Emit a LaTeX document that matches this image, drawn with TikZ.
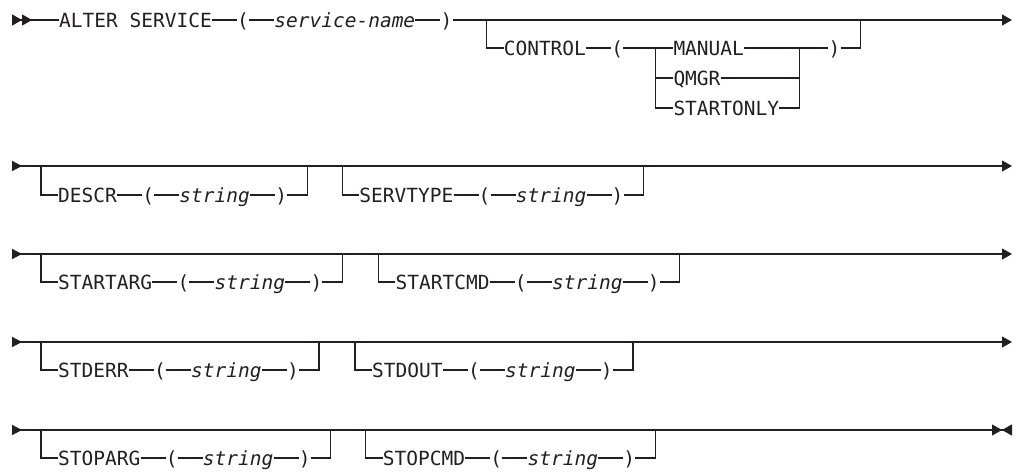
\documentclass[tikz,border=0pt]{standalone}
\usepackage{fontspec}
\newfontfamily\railfont{DejaVu Sans Mono}[ItalicFont={DejaVu Sans Mono Oblique}]
\usetikzlibrary{arrows.meta,positioning,calc}
\definecolor{ink}{HTML}{231F20}

\begin{document}
\begin{tikzpicture}[
    x=1pt, y=-1pt,
    node distance=25pt,
    kw/.style={inner sep=0pt, anchor=west, text height=14.2pt, text depth=0pt,
               font=\railfont\fontsize{19.5pt}{20pt}\selectfont, text=ink},
    var/.style={kw, font=\railfont\itshape\fontsize{19.5pt}{20pt}\selectfont},
    rail/.style={draw=ink, line width=1.2pt},
    railcont/.style={{Triangle[reversed,length=10pt,width=10pt]}-{Triangle[length=10pt,width=11pt]}},
    railstop/.style={{Triangle[reversed,length=10pt,width=10pt]}-{Triangle[length=10pt,width=11pt]Triangle[reversed,length=10pt,width=11pt]}}
  ]
  \useasboundingbox (0,0) rectangle (1018,473);

  % row 1: ALTER SERVICE ( service-name ) [CONTROL]
  \coordinate (s1) at (12,20);
  \coordinate (e1) at (1012,20);
  \node[kw] (alter) at (59,20) {ALTER SERVICE};
  \node[kw, right=of alter] (alterlp) {(};
  \node[var, right=of alterlp] (svcname) {service-name};
  \node[kw, right=of svcname] (alterrp) {)};
  \coordinate[right=34pt of alterrp] (ctlin);
  \node[kw] (ctl) at ([shift={(17pt,-28pt)}]ctlin) {CONTROL};
  \node[kw, right=of ctl] (ctllp) {(};
  \node[kw, right=50pt of ctllp] (manual) {MANUAL};
  \node[kw] (qmgr) at ([yshift=-30pt]manual.west) {QMGR};
  \node[kw] (startonly) at ([yshift=-30pt]qmgr.west) {STARTONLY};
  \coordinate (optin) at ([xshift=-18pt]manual.west);
  \coordinate (optout) at ([xshift=20pt]startonly.east |- manual.east);
  \node[kw, right=29pt of optout] (ctlrp) {)};
  \coordinate (ctlout) at ([xshift=20pt]ctlrp.east |- e1);

  \draw[rail, {Triangle[reversed,length=10pt,width=11pt]Triangle[reversed,length=10pt,width=11pt]}-] (s1) -- (alter);
  \draw[rail] (alter) -- (alterlp) (alterlp) -- (svcname) (svcname) -- (alterrp);
  \draw[rail, -{Triangle[length=10pt,width=11pt]}] (alterrp) -- (e1);
  \draw[rail] (ctlin) |- (ctl) (ctl) -- (ctllp) (ctllp) -- (manual);
  \draw[rail] (optin) |- (qmgr) (optin) |- (startonly);
  \draw[rail] (manual) -- (optout) (qmgr) -| (optout) (startonly) -| (optout);
  \draw[rail] (optout) -- (ctlrp) (ctlrp) -| (ctlout);

  % row 2: [DESCR] [SERVTYPE]
  \coordinate (s2) at (12,166);
  \coordinate (e2) at (1012,166);
  \coordinate (descrin) at (41,166);
  \node[kw] (descr) at ([shift={(17pt,-29pt)}]descrin) {DESCR};
  \node[kw, right=of descr] (descrlp) {(};
  \node[var, right=of descrlp] (descrstr) {string};
  \node[kw, right=of descrstr] (descrrp) {)};
  \coordinate (descrout) at ([xshift=20pt]descrrp.east |- s2);
  \coordinate[right=35pt of descrout] (servin);
  \node[kw] (serv) at ([shift={(17pt,-29pt)}]servin) {SERVTYPE};
  \node[kw, right=of serv] (servlp) {(};
  \node[var, right=of servlp] (servstr) {string};
  \node[kw, right=of servstr] (servrp) {)};
  \coordinate (servout) at ([xshift=20pt]servrp.east |- s2);

  \draw[rail, railcont] (s2) -- (e2);
  \draw[rail] (descrin) |- (descr) (descr) -- (descrlp) (descrlp) -- (descrstr)
              (descrstr) -- (descrrp) (descrrp) -| (descrout);
  \draw[rail] (servin) |- (serv) (serv) -- (servlp) (servlp) -- (servstr)
              (servstr) -- (servrp) (servrp) -| (servout);

  % row 3: [STARTARG] [STARTCMD]
  \coordinate (s3) at (12,254);
  \coordinate (e3) at (1012,254);
  \coordinate (sargin) at (41,254);
  \node[kw] (sarg) at ([shift={(17pt,-28pt)}]sargin) {STARTARG};
  \node[kw, right=of sarg] (sarglp) {(};
  \node[var, right=of sarglp] (sargstr) {string};
  \node[kw, right=of sargstr] (sargrp) {)};
  \coordinate (sargout) at ([xshift=20pt]sargrp.east |- s3);
  \coordinate[right=36pt of sargout] (scmdin);
  \node[kw] (scmd) at ([shift={(17pt,-28pt)}]scmdin) {STARTCMD};
  \node[kw, right=of scmd] (scmdlp) {(};
  \node[var, right=of scmdlp] (scmdstr) {string};
  \node[kw, right=of scmdstr] (scmdrp) {)};
  \coordinate (scmdout) at ([xshift=20pt]scmdrp.east |- s3);

  \draw[rail, railcont] (s3) -- (e3);
  \draw[rail] (sargin) |- (sarg) (sarg) -- (sarglp) (sarglp) -- (sargstr)
              (sargstr) -- (sargrp) (sargrp) -| (sargout);
  \draw[rail] (scmdin) |- (scmd) (scmd) -- (scmdlp) (scmdlp) -- (scmdstr)
              (scmdstr) -- (scmdrp) (scmdrp) -| (scmdout);

  % row 4: [STDERR] [STDOUT]
  \coordinate (s4) at (12,342);
  \coordinate (e4) at (1012,342);
  \coordinate (errin) at (41,342);
  \node[kw] (err) at ([shift={(17pt,-28pt)}]errin) {STDERR};
  \node[kw, right=of err] (errlp) {(};
  \node[var, right=of errlp] (errstr) {string};
  \node[kw, right=of errstr] (errrp) {)};
  \coordinate (errout) at ([xshift=20pt]errrp.east |- s4);
  \coordinate[right=36pt of errout] (outin);
  \node[kw] (out) at ([shift={(17pt,-28pt)}]outin) {STDOUT};
  \node[kw, right=of out] (outlp) {(};
  \node[var, right=of outlp] (outstr) {string};
  \node[kw, right=of outstr] (outrp) {)};
  \coordinate (outout) at ([xshift=20pt]outrp.east |- s4);

  \draw[rail, railcont] (s4) -- (e4);
  \draw[rail] (errin) |- (err) (err) -- (errlp) (errlp) -- (errstr)
              (errstr) -- (errrp) (errrp) -| (errout);
  \draw[rail] (outin) |- (out) (out) -- (outlp) (outlp) -- (outstr)
              (outstr) -- (outrp) (outrp) -| (outout);

  % row 5: [STOPARG] [STOPCMD]
  \coordinate (s5) at (12,430);
  \coordinate (e5) at (1012,430);
  \coordinate (pargin) at (41,430);
  \node[kw] (parg) at ([shift={(17pt,-28pt)}]pargin) {STOPARG};
  \node[kw, right=of parg] (parglp) {(};
  \node[var, right=of parglp] (pargstr) {string};
  \node[kw, right=of pargstr] (pargrp) {)};
  \coordinate (pargout) at ([xshift=20pt]pargrp.east |- s5);
  \coordinate[right=35pt of pargout] (pcmdin);
  \node[kw] (pcmd) at ([shift={(17pt,-28pt)}]pcmdin) {STOPCMD};
  \node[kw, right=of pcmd] (pcmdlp) {(};
  \node[var, right=of pcmdlp] (pcmdstr) {string};
  \node[kw, right=of pcmdstr] (pcmdrp) {)};
  \coordinate (pcmdout) at ([xshift=20pt]pcmdrp.east |- s5);

  \draw[rail, railstop] (s5) -- (e5);
  \draw[rail] (pargin) |- (parg) (parg) -- (parglp) (parglp) -- (pargstr)
              (pargstr) -- (pargrp) (pargrp) -| (pargout);
  \draw[rail] (pcmdin) |- (pcmd) (pcmd) -- (pcmdlp) (pcmdlp) -- (pcmdstr)
              (pcmdstr) -- (pcmdrp) (pcmdrp) -| (pcmdout);
\end{tikzpicture}
\end{document}
